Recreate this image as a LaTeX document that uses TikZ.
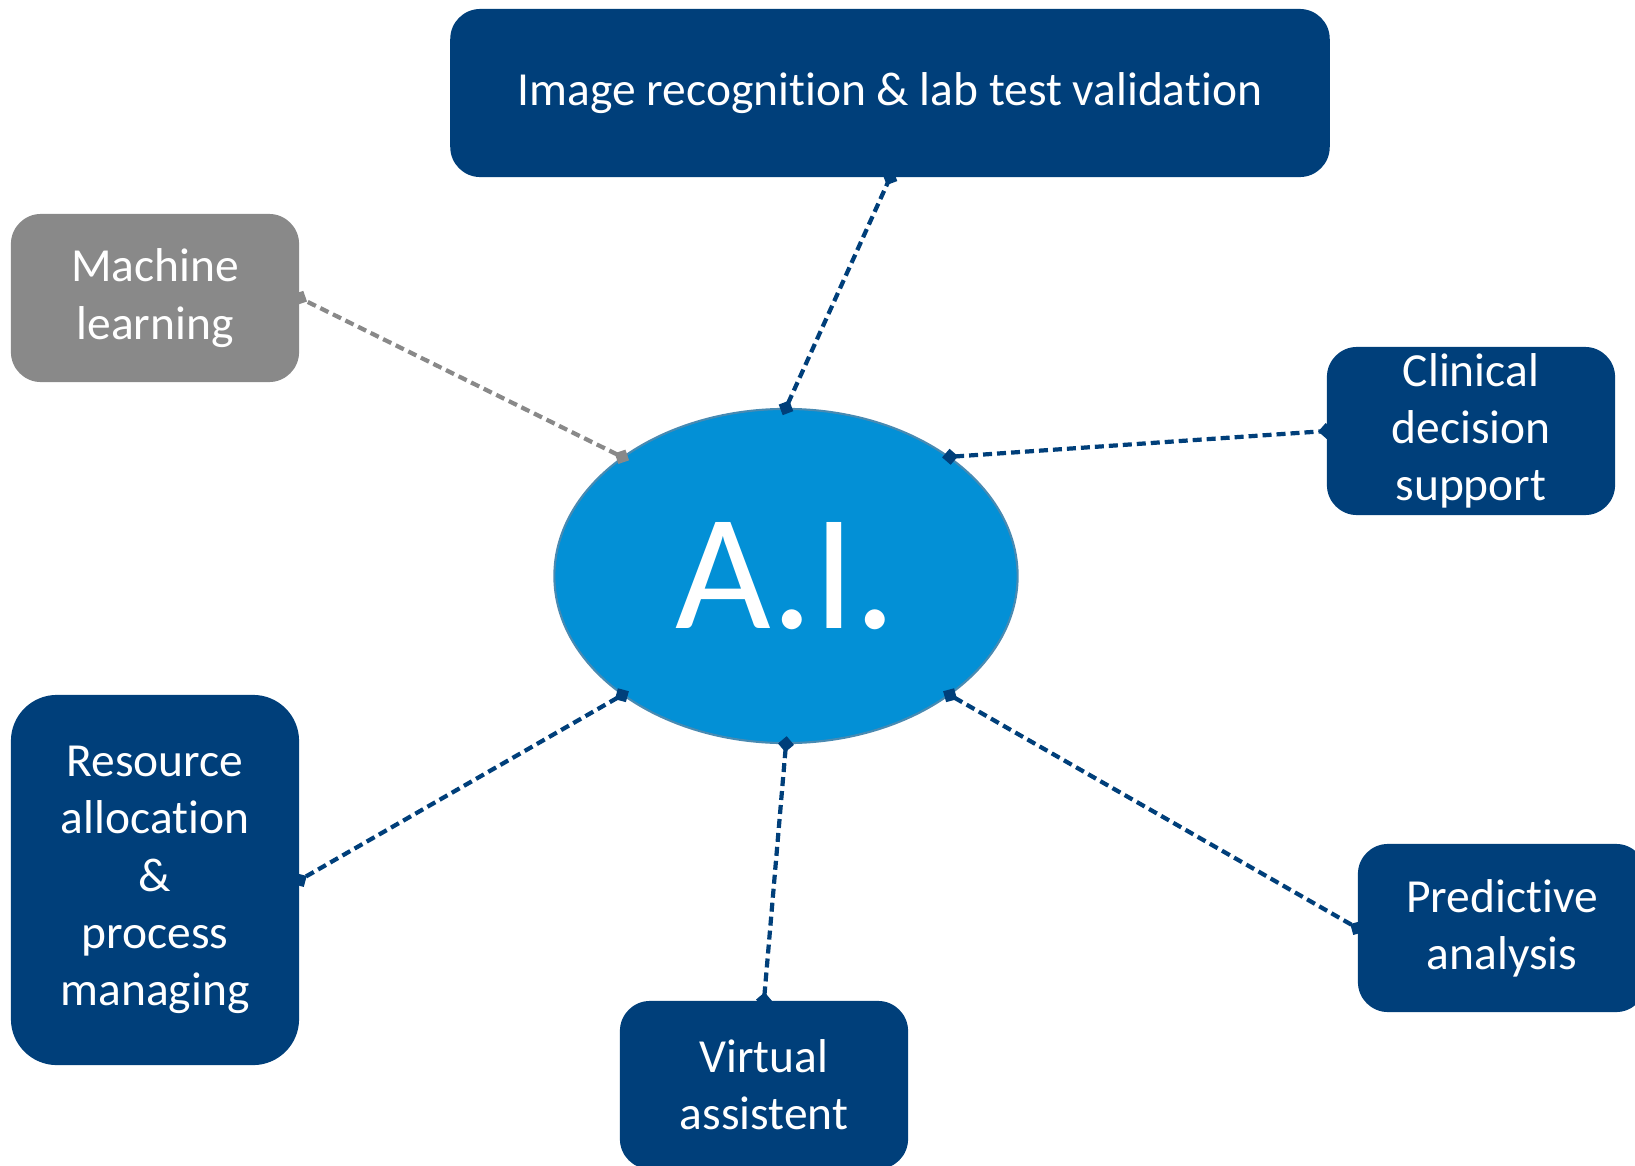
\documentclass[tikz,border=0pt]{standalone}
\usepackage{fontspec}
\setmainfont[Ligatures={CommonOff,ContextualOff,RareOff}, Contextuals=AlternateOff]{Carlito}
\usepackage{xcolor}
\usetikzlibrary{shapes.geometric,arrows.meta,positioning}
\definecolor{navy}{RGB}{0,63,122}
\definecolor{aiblue}{RGB}{3,144,214}
\definecolor{aiedge}{RGB}{72,138,178}
\definecolor{mlgray}{RGB}{137,137,137}
\pgfdeclarelayer{back}
\pgfdeclarelayer{links}
\pgfsetlayers{back,links,main}

\begin{document}
\begin{tikzpicture}[
    x=0.01cm, y=-0.01cm,
    font=\fontsize{13.5pt}{16.3pt}\selectfont,
    topic/.style={rectangle, fill=navy, text=white, rounded corners=0.3cm, minimum width=2.88cm, minimum height=1.68cm, align=center, inner sep=0pt},
    link/.style={navy, line width=1.2pt, dash pattern=on 0.09cm off 0.05cm,
        {Turned Square[length=0.16cm,width=0.16cm]}-{Turned Square[length=0.16cm,width=0.16cm]},
        shorten <=-0.08cm, shorten >=-0.08cm}
]
    \path[use as bounding box, clip] (0,0) rectangle (1635,1166);

    % Centre
    \begin{pgfonlayer}{back}
    \node[ellipse, fill=aiblue, draw=aiedge, line width=0.6pt, minimum width=4.63cm, minimum height=3.34cm, inner sep=0pt, text=white, font=\fontsize{47pt}{56pt}\selectfont] (ai) at (786,576) {\raisebox{-1.5pt}{A.I.}};
    \end{pgfonlayer}

    % Topics
    \node[topic, minimum width=8.79cm] (img) at (890,93) {\raisebox{-1.4pt}{Image recognition \& lab test validation}};
    \node[topic, fill=mlgray] (ml) at (155,298) {Machine\\learning};
    \node[topic] (cds) at (1471,431) {Clinical\\decision\\support};
    \node[topic, minimum height=3.70cm, rounded corners=0.46cm] (res) at (155,880) {Resource\\allocation\\\&\\process\\managing};
    \node[topic] (va) at (764,1085) {Virtual\\assistent};
    \node[topic] (pa) at (1502,928) {Predictive\\analysis};

    % Dashed links
    \begin{pgfonlayer}{links}
    \draw[link] (ai.90) -- (img.south);
    \draw[link, mlgray] (ai.144) -- (ml.east);
    \draw[link] (ai.36) -- (cds.west);
    \draw[link] (ai.216) -- (res.east);
    \draw[link] (ai.270) -- (va.north);
    \draw[link] (ai.324) -- (pa.west);
    \end{pgfonlayer}
\end{tikzpicture}
\end{document}
